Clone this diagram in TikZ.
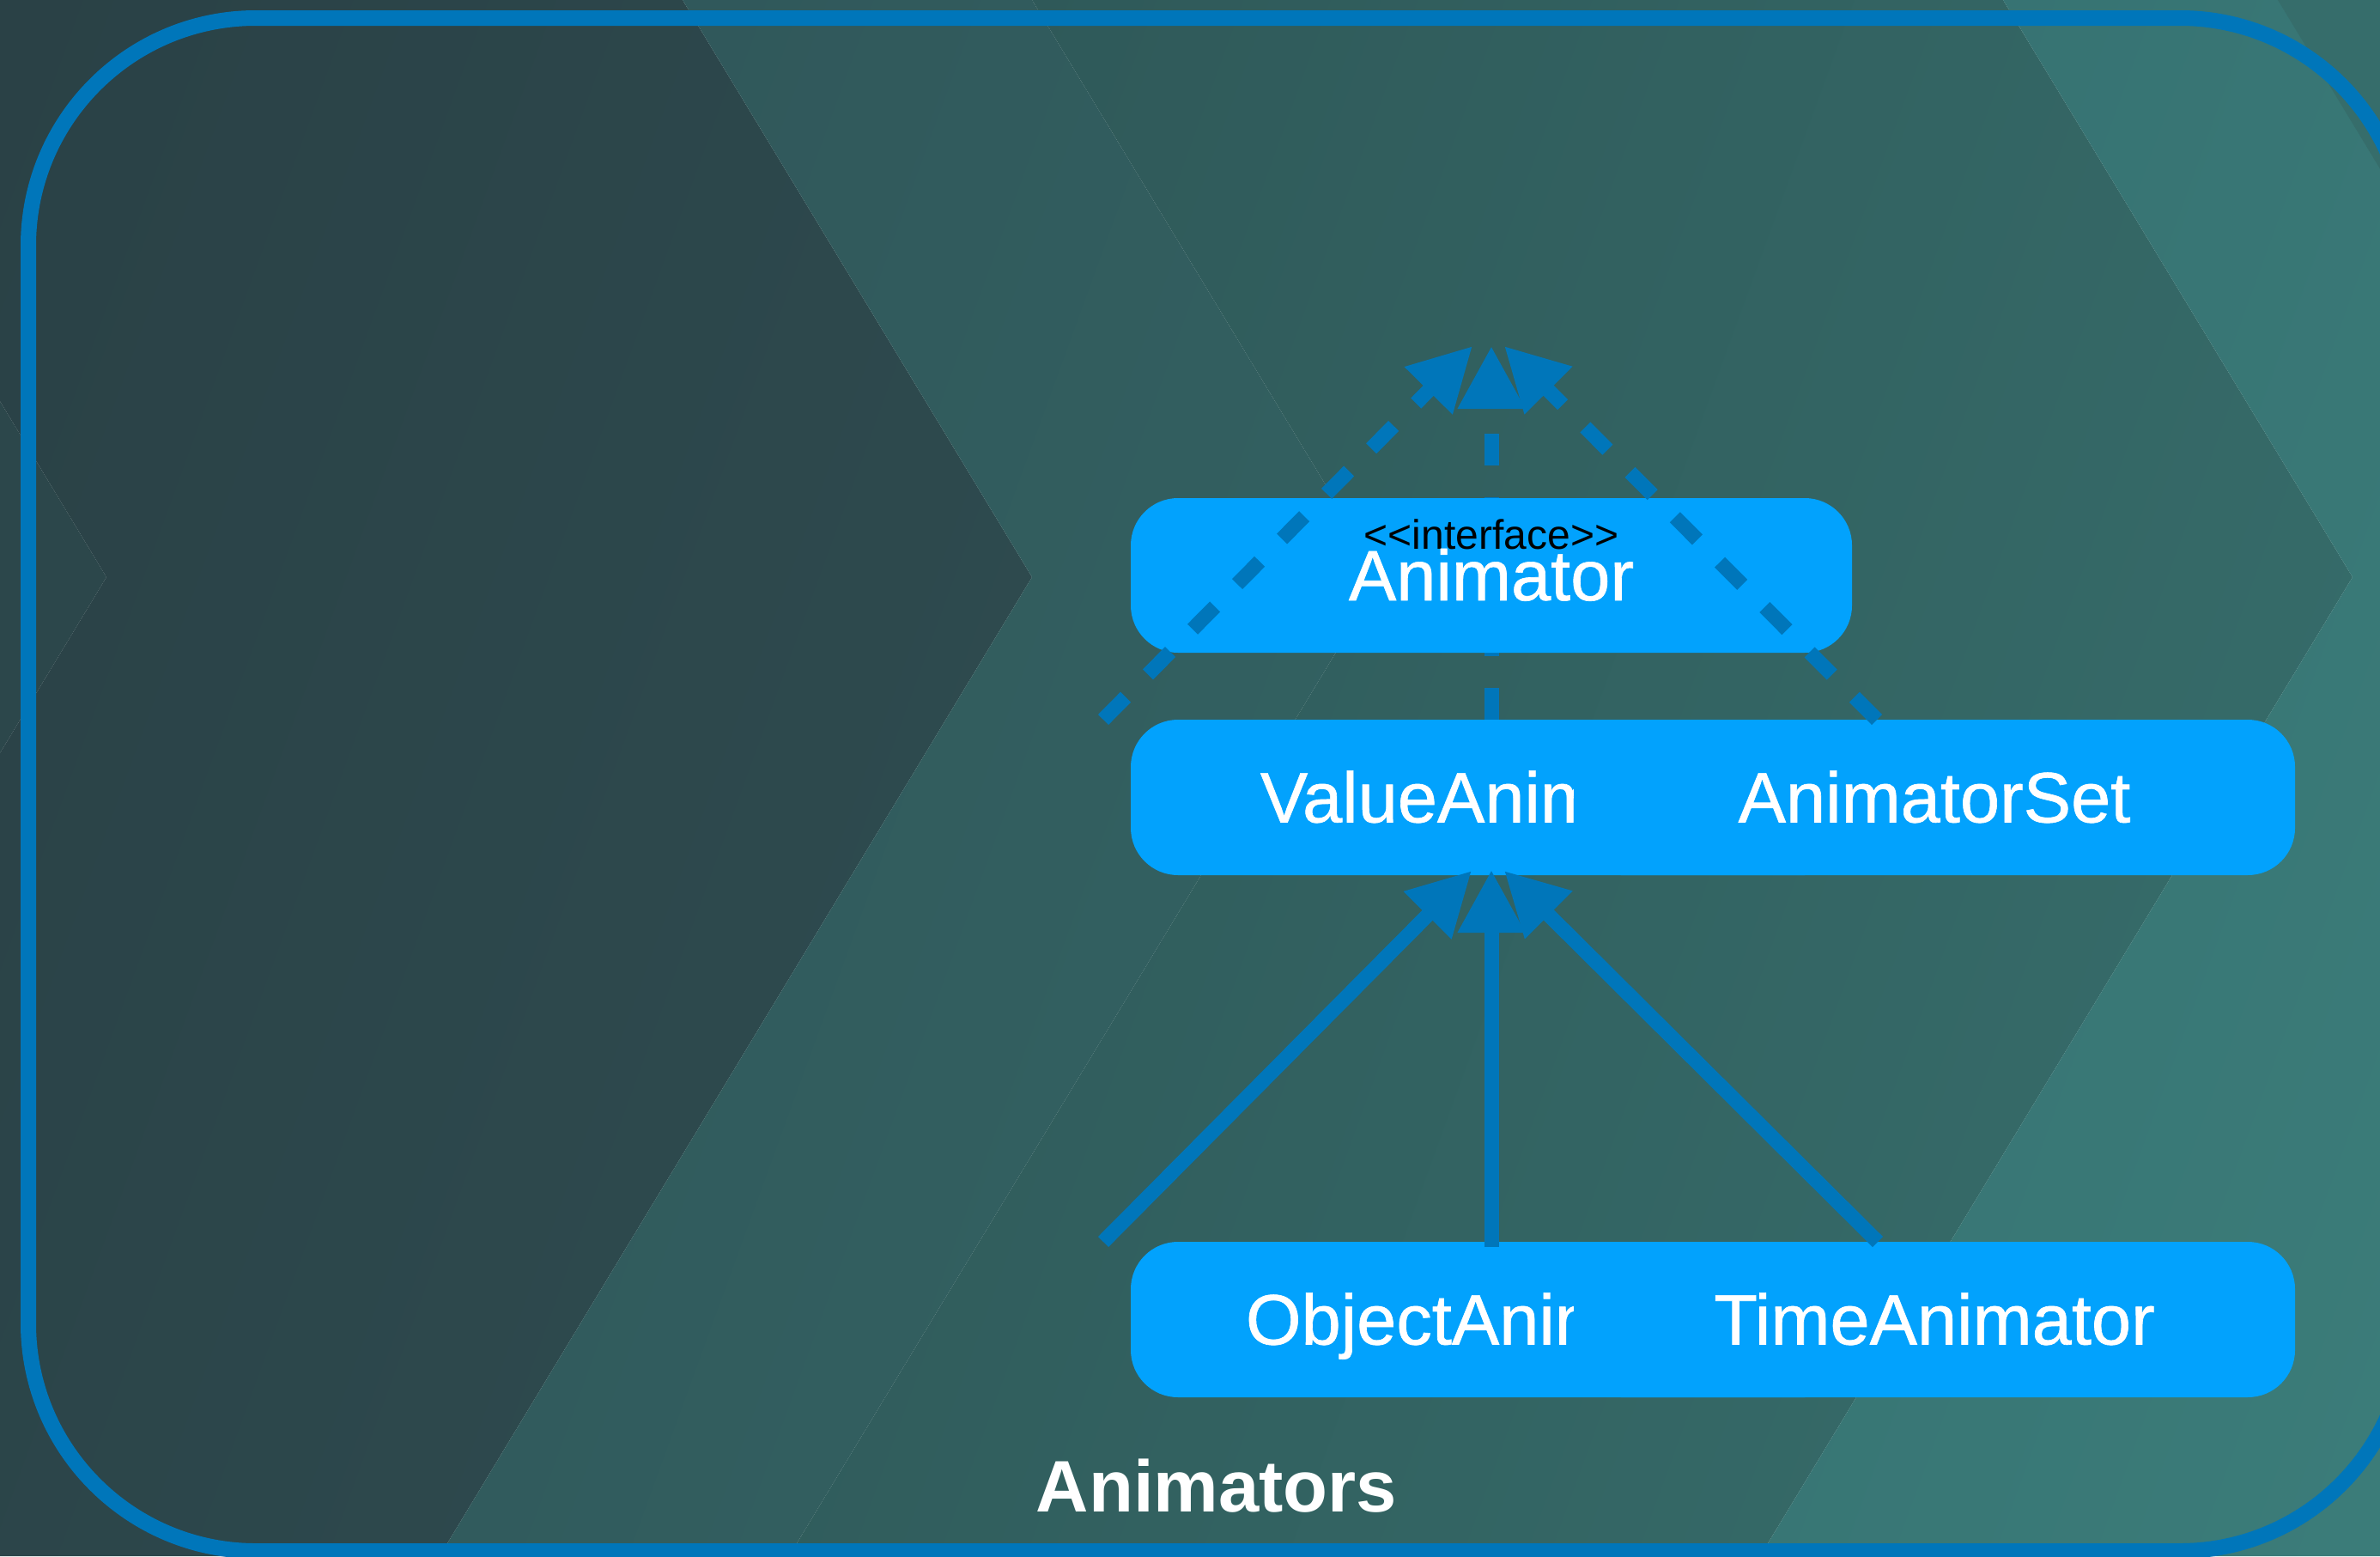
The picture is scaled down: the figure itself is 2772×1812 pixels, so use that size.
\documentclass[tikz,border=0pt]{standalone}
\usepackage{fontspec}
\usepackage{graphicx}
\usetikzlibrary{arrows.meta}
\newfontfamily\lsans{Liberation Sans}
\newfontfamily\lsansm[FakeBold=0.8]{Liberation Sans}
\definecolor{frameblue}{HTML}{0076BA}
\definecolor{boxblue}{HTML}{02A2FD}
\definecolor{bgS}{HTML}{2C474B}
\definecolor{bgAl}{HTML}{293F44}
\definecolor{bgAr}{HTML}{2E4B4F}
\definecolor{bgBl}{HTML}{30575A}
\definecolor{bgBr}{HTML}{336262}
\definecolor{bgCl}{HTML}{2F5959}
\definecolor{bgCr}{HTML}{366C6A}
\definecolor{bgDl}{HTML}{367272}
\definecolor{bgDr}{HTML}{3B7C79}
\definecolor{bgE}{HTML}{366D6B}
\begin{document}
\begin{tikzpicture}[x=1pt,y=-1pt,
  umlbox/.style={draw=none, fill=boxblue, rounded corners=55pt, minimum width=840pt,
    minimum height=181pt, inner sep=0pt, text=white,
    font=\lsansm\fontsize{83}{90}\selectfont, text height=58pt, text depth=0pt},
  conn/.style={draw=frameblue, line width=17pt, -{Triangle[length=73pt,width=74pt]}},
  dashconn/.style={conn, dash pattern=on 37pt off 37pt},
  lbl/.style={anchor=base, inner sep=0pt},
]
\useasboundingbox (0,0) rectangle (2772,1812);
\begin{scope}
  \clip (0,0) rectangle (2772,1812);
  \fill[bgS] (-700,0) -- (-283,0) -- (124,672) -- (-566,1812) -- (-700,1812) -- cycle;
  \shade[left color=bgAl, right color=bgAr, shading angle=70]
    (-283,0) -- (795,0) -- (1202,672) -- (512,1812) -- (-566,1812) -- (124,672) -- cycle;
  \shade[left color=bgBl, right color=bgBr, shading angle=70]
    (795,0) -- (1202,0) -- (1609,672) -- (919,1812) -- (512,1812) -- (1202,672) -- cycle;
  \shade[left color=bgCl, right color=bgCr, shading angle=70]
    (1202,0) -- (2333,0) -- (2740,672) -- (2050,1812) -- (919,1812) -- (1609,672) -- cycle;
  \shade[left color=bgDl, right color=bgDr, shading angle=70]
    (2333,0) -- (2900,0) -- (2900,1812) -- (2050,1812) -- (2740,672) -- cycle;
  \fill[bgE] (2653,0) -- (2900,0) -- (2900,408) -- cycle;
  \draw[frameblue, line width=18pt, rounded corners=265pt] (33,21) rectangle (2804,1806);
\end{scope}

% second row
\node[umlbox] (va) at (1737,928.5) {ValueAnimator};
\node[umlbox] (as) at (2253,928.5) {AnimatorSet};

% middle dashed arrow (behind the interface box)
\coordinate (tM) at (1737,403);
\draw[dashconn] (va.north) -- (tM);

% interface box
\node[umlbox, minimum height=180pt] (an) at (1737,670) {};
\node[lbl, text=black, font=\lsans\fontsize{48}{52}\selectfont] (ifc) at (1737,639) {<\kern0pt<interface>\kern0pt>};
\node[lbl, text=white, font=\lsansm\fontsize{83}{90}\selectfont] (anl) at (1737,699) {Animator};

% diagonal dashed arrows
\coordinate (dL) at (1285,838);
\coordinate (dR) at (2186,838);
\coordinate (tL) at (1715,403);
\coordinate (tR) at (1752,403);
\draw[dashconn] (dL) -- (tL);
\draw[dashconn] (dR) -- (tR);

% bottom row
\node[umlbox] (oa) at (1737,1536.5) {ObjectAnimator};
\node[umlbox] (ta) at (2253,1536.5) {TimeAnimator};

% solid arrows
\coordinate (sL) at (1285,1446);
\coordinate (sR) at (2187,1446);
\coordinate (bL) at (1714,1014);
\coordinate (bM) at (1737,1013);
\coordinate (bR) at (1752,1014);
\draw[conn] (sL) -- (bL);
\draw[conn] ([yshift=-6pt]oa.north) -- (bM);
\draw[conn] (sR) -- (bR);

% title
\node[lbl, text=white, font=\lsans\bfseries\fontsize{85}{90}\selectfont] (title) at (1417,1760) {Animators};
\end{tikzpicture}
\end{document}
